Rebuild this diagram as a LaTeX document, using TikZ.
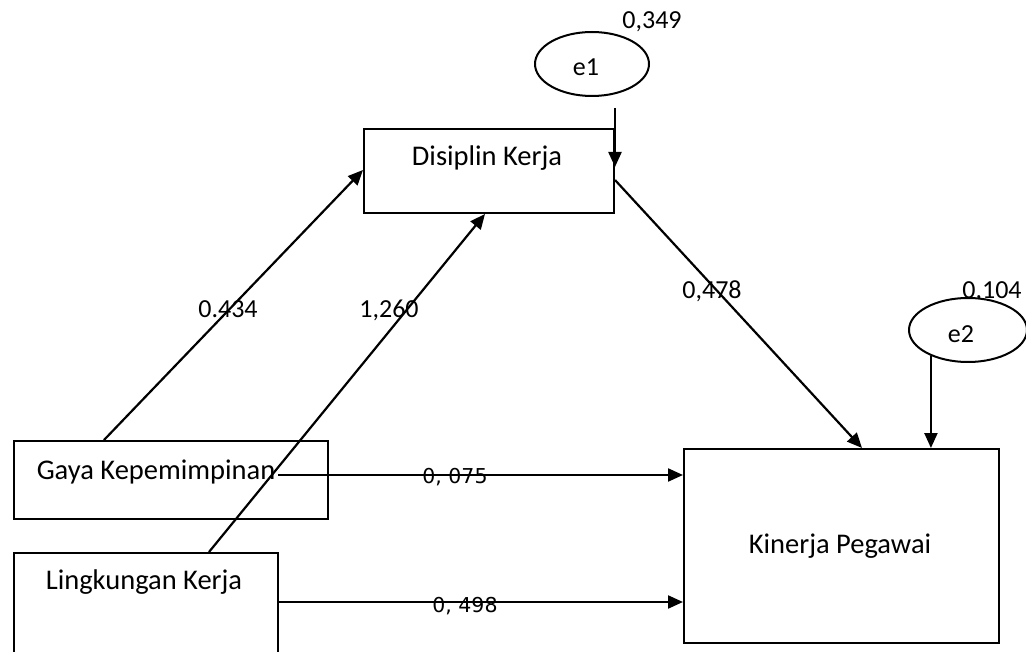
\documentclass[tikz,border=0pt]{standalone}
\usepackage{fontspec}
\setmainfont{Carlito}
\newfontfamily\dejavu{DejaVu Sans}
\usetikzlibrary{arrows.meta,shapes.geometric}

\begin{document}
\begin{tikzpicture}[x=1pt,y=-1pt,line width=2pt,line join=miter,
  box/.style={draw,rectangle,inner sep=0pt,anchor=north west},
  err/.style={draw,ellipse,fill=white,inner sep=0pt},
  txt/.style={font=\fontsize{28.5}{34}\selectfont,inner sep=0pt,anchor=base},
  coef/.style={font=\fontsize{26}{30}\selectfont,inner sep=0pt,anchor=base},
  coefdv/.style={font=\dejavu\fontsize{20.5}{24}\selectfont,inner sep=0pt,anchor=base},
  arr/.style={-{Triangle[length=15pt,width=13pt]},line width=2.2pt}]
\useasboundingbox (0,0) rectangle (1026,652);
% boxes
\node[box,minimum width=314pt,minimum height=78pt] (gk) at (13,440) {};
\node[box,minimum width=264pt,minimum height=140pt] (lk) at (13,552) {};
\node[box,minimum width=250pt,minimum height=84pt] (dk) at (363,128) {};
\node[box,minimum width=315pt,minimum height=194pt] (kp) at (683,448) {};
\node[txt] (gktext) at (156,479) {Gaya Kepemimpinan};
\node[txt] (lktext) at (144,589) {Lingkungan Kerja};
\node[txt] (dktext) at (487,166) {Disiplin Kerja};
\node[txt] (kptext) at (840,553) {Kinerja Pegawai};
% error terms
\node[coef] (e1val) at (652,29) {0,349};
\node[coef] (e2val) at (992,299) {0,104};
\node[err,minimum width=114pt,minimum height=64pt] (e1) at (592,64) {};
\node[err,minimum width=118pt,minimum height=64pt] (e2) at (968,330) {};
\node[coef] (e1text) at (586,76) {e1};
\node[coef] (e2text) at (961,343) {e2};
% paths
\coordinate (e1out) at ([yshift=-11pt]e1.south);
\draw[arr] (e1out -| dk.north east) -- ([yshift=-39pt]dk.north east);
\draw[arr] (e2.-145) -- (e2.-145 |- kp.north);
\draw[arr] ([xshift=91pt]gk.north west) -- ([yshift=-42pt]dk.north west);
\draw[arr] ([xshift=196pt]lk.north west) -- ([xshift=122pt]dk.south west);
\draw[arr] ([yshift=-52pt]dk.north east) -- ([xshift=179pt]kp.north west);
\draw[arr] ([xshift=265pt,yshift=-35pt]gk.north west) -- ([yshift=-27pt]kp.north west);
\draw[arr] ([xshift=-2pt,yshift=-50pt]lk.north east) -- ([yshift=-154pt]kp.north west);
% coefficients
\node[coef] (c1) at (228,318) {0.434};
\node[coef] (c2) at (389,318) {1,260};
\node[coef] (c3) at (712,299) {0,478};
\node[coefdv] (c4) at (455,483) {0, 075};
\node[coefdv] (c5) at (465,612) {0, 498};
\end{tikzpicture}
\end{document}
